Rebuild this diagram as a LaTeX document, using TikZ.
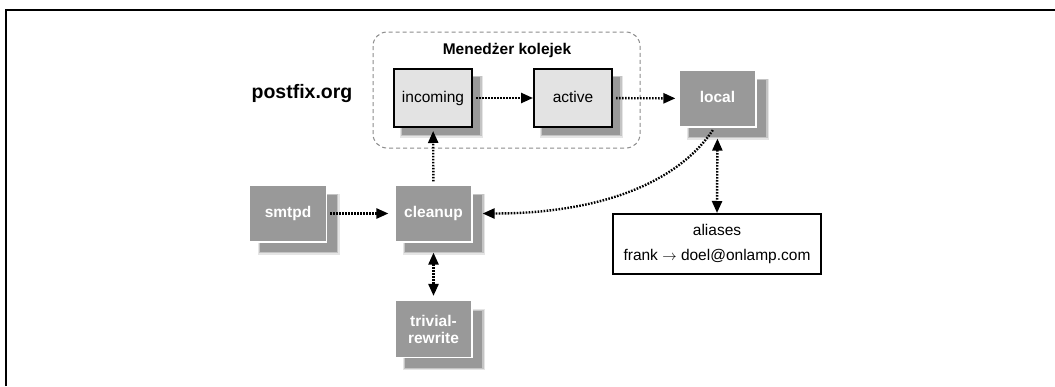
\documentclass[tikz,border=0pt]{standalone}
\usepackage{fontspec}
\setmainfont{Liberation Sans}
\usetikzlibrary{arrows.meta,shadows}
\definecolor{boxgray}{gray}{0.60}
\definecolor{lightfill}{gray}{0.89}
\definecolor{groupline}{gray}{0.55}
\begin{document}
\begin{tikzpicture}[x=1pt,y=-1pt,
  softshadow/.style={
    general shadow={shadow xshift=#1, shadow yshift=-#1, shadow scale=1.07, fill=black, opacity=.10},
    general shadow={shadow xshift=#1, shadow yshift=-#1, shadow scale=1.035, fill=black, opacity=.14},
    general shadow={shadow xshift=#1, shadow yshift=-#1, fill=black, opacity=.22}},
  boxfont/.style={font=\fontsize{15.5}{17}\selectfont},
  darkbox/.style={rectangle, fill=boxgray, draw=white, line width=1.2pt,
    minimum width=77pt, minimum height=57pt, inner sep=0pt, text=white,
    font=\bfseries\fontsize{15.5}{17}\selectfont, softshadow=10pt},
  lightbox/.style={rectangle, fill=lightfill, draw=black, line width=2pt,
    minimum width=78pt, minimum height=58pt, inner sep=0pt, boxfont, softshadow=8pt,
    text height=11pt, text depth=3pt},
  aliasbox/.style={rectangle, fill=white, draw=black, line width=2pt,
    minimum width=208pt, minimum height=60pt, inner sep=0pt, align=center,
    font=\fontsize{15.5}{25}\selectfont},
  dotline/.style={line width=2.4pt, dash pattern=on 1.6pt off 1.4pt},
  tip/.style={-{Triangle[length=12pt,width=10pt]}},
  bitip/.style={{Triangle[length=12pt,width=10pt]}-{Triangle[length=12pt,width=10pt]}},
  group/.style={draw=groupline, line width=1pt, dash pattern=on 4pt off 3pt, rounded corners=14pt}
]
\useasboundingbox (0,0) rectangle (1055,386);
\fill[white] (0,0) rectangle (1055,386);
% frame
\draw[line width=2pt] (6,386) -- (6,10) -- (1055,10);

% queue manager group
\draw[group] (373,32) rectangle (640,148);
\node[font=\bfseries\fontsize{15.5}{17}\selectfont, anchor=base] (title) at (507,54) {Menedżer kolejek};
\node[font=\bfseries\fontsize{19.5}{22}\selectfont, anchor=base] (brand) at (302,98) {postfix.org};

% boxes
\node[lightbox] (incoming) at (433,98) {incoming};
\node[lightbox] (active) at (573,98) {active};
\node[darkbox, text height=11pt, text depth=3pt] (local) at (717.5,98.5) {local};
\node[darkbox, text height=11pt, text depth=3pt] (smtpd) at (288,213.5) {smtpd};
\node[darkbox, text height=11pt, text depth=3pt] (cleanup) at (433.5,213.5) {cleanup};
\node[darkbox, align=center] (trivial) at (433.5,329) {trivial-\\rewrite};
\node[aliasbox] (aliases) at (717,244) {aliases\\frank $\rightarrow$ doel@onlamp.com};

% connectors
\draw[dotline, tip, shorten <=3pt] (incoming) -- (active);
\draw[dotline, tip, shorten <=3pt, shorten >=3pt] (active) -- (local);
\draw[dotline, tip, shorten <=3pt, shorten >=6pt] (smtpd) -- (cleanup);
\draw[dotline, tip, shorten <=3pt, shorten >=3pt] (cleanup) -- (incoming);
\draw[dotline, bitip, shorten <=10pt, shorten >=4pt] (cleanup) -- (trivial);
\draw[dotline, bitip, shorten <=11pt] (local.south) -- (aliases.north);
\draw[dotline, tip, shorten <=3pt, shorten >=10pt]
  ([xshift=-3pt]local.south) .. controls +(-37,55) and +(128,0) .. (cleanup.east);
\end{tikzpicture}
\end{document}
